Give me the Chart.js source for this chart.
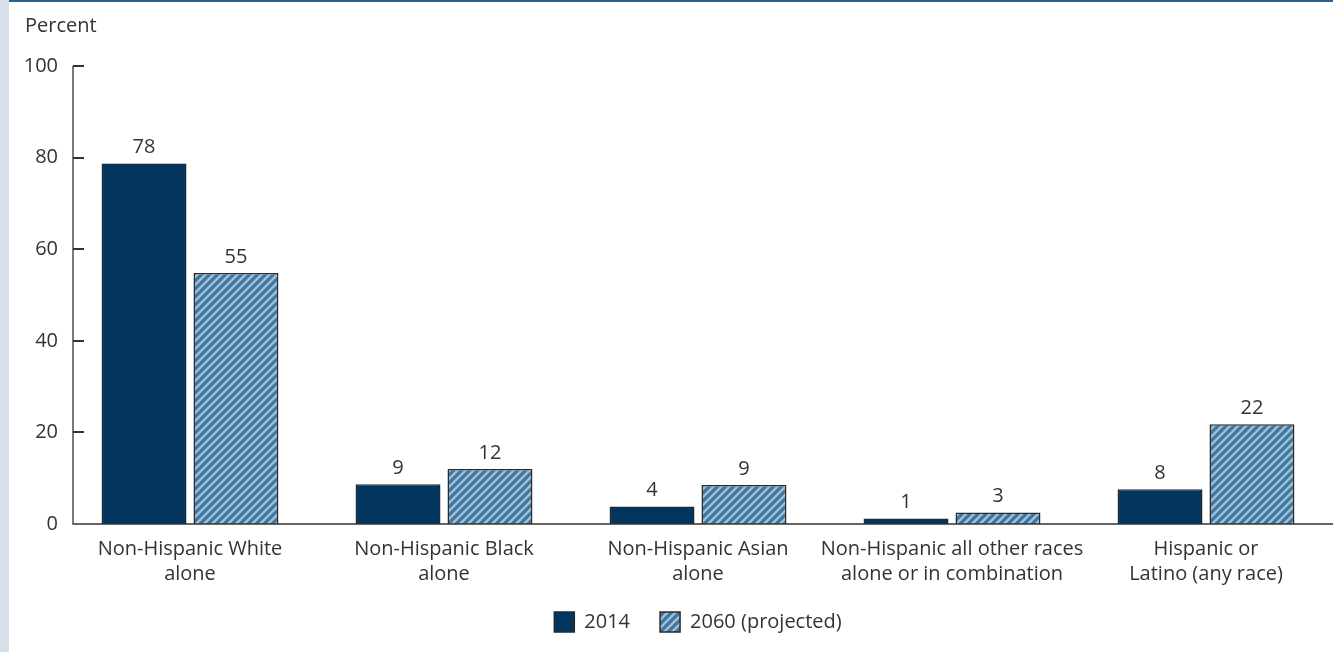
<!DOCTYPE html>
<html>
<head>
<meta charset="utf-8">
<script src="https://cdn.jsdelivr.net/npm/chart.js@4.4.1/dist/chart.umd.min.js"></script>
<style>
  html, body { margin: 0; padding: 0; background: #ffffff; overflow: hidden; }
  #wrap { position: relative; width: 1333px; height: 652px; }
  #band { position: absolute; left: 0; top: 0; width: 9px; height: 652px; background: #d6e0ea; }
  #topline { position: absolute; left: 9px; top: 0; right: 0; height: 2px; background: #2d5f8b; }
  canvas { position: absolute; left: 0; top: 0; }
</style>
</head>
<body>
<div id="wrap">
  <canvas id="bar-chart" width="1333" height="652"></canvas>
  <div id="band"></div>
  <div id="topline"></div>
</div>
<script>
const categories = [
  ['Non-Hispanic White', 'alone'],
  ['Non-Hispanic Black', 'alone'],
  ['Non-Hispanic Asian', 'alone'],
  ['Non-Hispanic all other races', 'alone or in combination'],
  ['Hispanic or', 'Latino (any race)']
];
const values2014 = [78.7, 8.7, 3.8, 1.2, 7.6];
const values2060 = [54.8, 12.0, 8.5, 2.5, 21.8];
const labels2014 = ['78', '9', '4', '1', '8'];
const labels2060 = ['55', '12', '9', '3', '22'];
const yTicks = [0, 20, 40, 60, 80, 100];

const FONT = "'Open Sans', 'Noto Sans', sans-serif";
const TEXT = '#333333';

function hatch() {
  const c = document.createElement('canvas');
  c.width = 8;
  c.height = 8;
  const g = c.getContext('2d');
  g.fillStyle = '#3f77a0';
  g.fillRect(0, 0, 8, 8);
  g.strokeStyle = '#a2c1da';
  g.lineWidth = 2.3;
  g.beginPath();
  g.moveTo(-1, 9); g.lineTo(9, -1);
  g.moveTo(-9, 9); g.lineTo(1, -1);
  g.moveTo(7, 9); g.lineTo(17, -1);
  g.stroke();
  return g.createPattern(c, 'repeat');
}

// axis lines, ticks and the "Percent" caption
const axisPlugin = {
  id: 'axisPlugin',
  afterLayout(chart) {
    // legend is centred under the plot, not the whole canvas
    const lg = chart.legend;
    lg.left = chart.chartArea.left;
    lg.right = chart.chartArea.right;
    lg.top -= 8;
    lg.bottom -= 8;
  },
  afterDraw(chart) {
    const ctx = chart.ctx;
    const y = chart.scales.y;
    const axisX = 73;
    ctx.save();
    ctx.strokeStyle = '#333333';
    ctx.lineWidth = 1.3;
    ctx.beginPath();
    ctx.moveTo(axisX, y.getPixelForValue(100));
    ctx.lineTo(axisX, y.getPixelForValue(0));
    ctx.lineTo(chart.width, y.getPixelForValue(0));
    ctx.stroke();
    ctx.lineWidth = 2;
    yTicks.forEach(v => {
      if (v === 0) return;
      const py = Math.round(y.getPixelForValue(v));
      ctx.beginPath();
      ctx.moveTo(axisX, py);
      ctx.lineTo(axisX + 11, py);
      ctx.stroke();
    });
    ctx.fillStyle = TEXT;
    ctx.font = '20px ' + FONT;
    ctx.textAlign = 'left';
    ctx.textBaseline = 'middle';
    ctx.fillText('Percent', 25, 26);
    ctx.restore();
  }
};

// value labels above each bar
const valuePlugin = {
  id: 'valuePlugin',
  afterDatasetsDraw(chart) {
    const ctx = chart.ctx;
    const all = [labels2014, labels2060];
    ctx.save();
    ctx.fillStyle = TEXT;
    ctx.font = '20px ' + FONT;
    ctx.textAlign = 'center';
    ctx.textBaseline = 'bottom';
    chart.data.datasets.forEach((ds, d) => {
      chart.getDatasetMeta(d).data.forEach((bar, i) => {
        ctx.fillText(all[d][i], bar.x, bar.y - 6);
      });
    });
    ctx.restore();
  }
};

window.addEventListener('load', () => {
  const ctx = document.getElementById('bar-chart').getContext('2d');
  window.myBarChart = new Chart(ctx, {
    type: 'bar',
    data: {
      labels: categories,
      datasets: [
        {
          label: '2014',
          data: values2014,
          backgroundColor: '#02365e',
          borderColor: '#1f2a33',
          borderWidth: 1.5,
          categoryPercentage: 0.724,
          barPercentage: 0.924,
        },
        {
          label: '2060 (projected)',
          data: values2060,
          backgroundColor: hatch(),
          borderColor: '#2a2a2a',
          borderWidth: 1.5,
          categoryPercentage: 0.724,
          barPercentage: 0.924,
        },
      ],
    },
    options: {
      responsive: false,
      animation: false,
      maintainAspectRatio: false,
      plugins: {
        legend: {
          display: true,
          position: 'bottom',
          labels: {
            boxWidth: 20,
            boxHeight: 20,
            padding: 30,
            color: TEXT,
            font: { family: FONT, size: 20 },
          },
        },
        title: { display: false },
        tooltip: { enabled: false },
      },
      scales: {
        x: {
          grid: { display: false, drawTicks: false },
          border: { display: false },
          ticks: {
            color: TEXT,
            padding: 13,
            maxRotation: 0,
            autoSkip: false,
            font: { family: FONT, size: 20, lineHeight: 1.25 },
          },
          afterFit(scale) { scale.height = 66; },
        },
        y: {
          min: 0,
          max: 100,
          grid: { display: false, drawTicks: false },
          border: { display: false },
          ticks: {
            stepSize: 20,
            color: TEXT,
            padding: 5,
            font: { family: FONT, size: 20 },
          },
          afterFit(scale) { scale.width = 63; },
        },
      },
      layout: {
        padding: { left: 0, right: 0, top: 66, bottom: 2 },
      },
    },
    plugins: [axisPlugin, valuePlugin],
  });
});
</script>
</body>
</html>
